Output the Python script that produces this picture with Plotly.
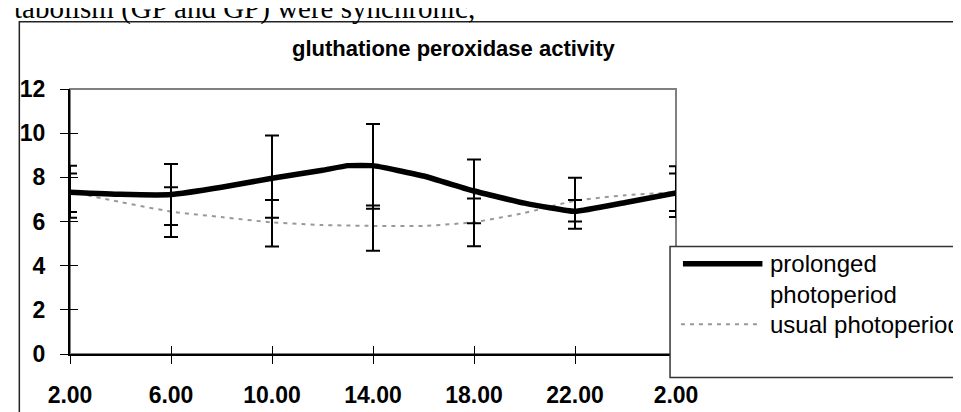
import plotly.graph_objects as go

# hours of the day (26 = 2.00 of the next day)
hours_prolonged = [2, 4, 6, 8, 10, 12, 13, 14, 16, 18, 20, 22, 24, 26]
prolonged = [7.33, 7.23, 7.22, 7.55, 7.96, 8.32, 8.53, 8.53, 8.06, 7.38, 6.83, 6.46, 6.86, 7.29]

hours_usual = [2, 4, 6, 8, 10, 12, 14, 16, 18, 20, 22, 24, 26]
usual = [7.35, 6.88, 6.45, 6.20, 5.96, 5.84, 5.80, 5.80, 5.97, 6.39, 6.94, 7.19, 7.33]

tick_hours = [2, 6, 10, 14, 18, 22, 26]
tick_labels = ["2.00", "6.00", "10.00", "14.00", "18.00", "22.00", "2.00"]

prolonged_err_plus = [1.19, 1.38, 1.94, 1.89, 1.43, 0.51, 1.21]
prolonged_err_minus = [1.16, 1.38, 1.79, 1.95, 1.46, 0.79, 1.09]
usual_err_plus = [0.82, 1.10, 1.01, 0.92, 1.07, 1.04, 0.84]
usual_err_minus = [0.92, 1.15, 1.09, 1.12, 1.09, 0.94, 0.85]

y_ticks = [0, 2, 4, 6, 8, 10, 12]

# pixel layout helpers (plot area 58..668 x 81..357)
L, R, T, B, W, H = 58, 668, 81, 357, 961, 412


def px(x):
    return (x - L) / (R - L)


def py(y):
    return (B - y) / (B - T)


FONT = "Liberation Sans, Arial, sans-serif"

p_at = dict(zip(hours_prolonged, prolonged))
u_at = dict(zip(hours_usual, usual))

fig = go.Figure()

fig.add_trace(go.Scatter(
    x=hours_usual, y=usual, mode="lines", name="usual photoperiod",
    line=dict(color="#999999", width=2, dash="4px,5px", shape="spline", smoothing=0.5),
    showlegend=False,
))
fig.add_trace(go.Scatter(
    x=hours_prolonged, y=prolonged, mode="lines", name="prolonged photoperiod",
    line=dict(color="black", width=5.5, shape="spline", smoothing=0.35),
    showlegend=False,
))

fig.add_trace(go.Scatter(
    x=tick_hours, y=[p_at[h] for h in tick_hours], mode="markers",
    marker=dict(size=1, color="rgba(0,0,0,0)"), showlegend=False, hoverinfo="skip",
    error_y=dict(type="data", symmetric=False, array=prolonged_err_plus,
                 arrayminus=prolonged_err_minus, color="black", thickness=2, width=7),
))
fig.add_trace(go.Scatter(
    x=tick_hours, y=[u_at[h] for h in tick_hours], mode="markers",
    marker=dict(size=1, color="rgba(0,0,0,0)"), showlegend=False, hoverinfo="skip",
    error_y=dict(type="data", symmetric=False, array=usual_err_plus,
                 arrayminus=usual_err_minus, color="black", thickness=2, width=7),
))

tickfont = dict(family=FONT, size=23, color="black", weight="bold")

fig.update_layout(
    width=W, height=H,
    margin=dict(l=L, r=W - R, t=T, b=H - B),
    paper_bgcolor="white", plot_bgcolor="white",
    showlegend=False,
    xaxis=dict(range=[2, 26], tickvals=tick_hours, ticktext=tick_labels,
               showgrid=False, zeroline=False, showline=True, linecolor="black", linewidth=1.5,
               ticks="outside", ticklen=8, tickwidth=1, tickcolor="black",
               tickfont=tickfont, ticklabelstandoff=12),
    yaxis=dict(range=[0, 12], tickvals=y_ticks,
               showgrid=False, zeroline=False, showline=True, linecolor="black", linewidth=2,
               ticks="outside", ticklen=8, tickwidth=1, tickcolor="black",
               tickfont=tickfont, ticklabelstandoff=10),
    xaxis2=dict(range=[2, 26], overlaying="x", tickvals=tick_hours, showticklabels=False,
                showgrid=False, zeroline=False, ticks="inside", ticklen=8, tickwidth=1,
                tickcolor="black"),
    yaxis2=dict(range=[0, 12], overlaying="y", tickvals=y_ticks, showticklabels=False,
                showgrid=False, zeroline=False, ticks="inside", ticklen=8, tickwidth=1,
                tickcolor="black"),
)
# dummy trace so the overlay axes are drawn
fig.add_trace(go.Scatter(x=[2], y=[0], xaxis="x2", yaxis="y2", mode="markers",
                         marker=dict(size=1, color="rgba(0,0,0,0)"), showlegend=False,
                         hoverinfo="skip"))

shapes = [
    # plot area border
    dict(type="rect", xref="paper", yref="paper", x0=0, y0=0, x1=1, y1=1,
         line=dict(color="#808080", width=2), layer="below"),
    # outer chart border
    dict(type="rect", xref="paper", yref="paper", x0=px(7), y0=py(430), x1=px(990), y1=py(11),
         line=dict(color="#222222", width=1.5), layer="below"),
    # legend box
    dict(type="rect", xref="paper", yref="paper", x0=px(662), y0=py(381.5), x1=px(990), y1=py(245),
         line=dict(color="#333333", width=1.5), fillcolor="white", layer="above"),
    # legend samples
    dict(type="line", xref="paper", yref="paper", x0=px(675), y0=py(263), x1=px(755), y1=py(263),
         line=dict(color="black", width=5.5), layer="above"),
    dict(type="line", xref="paper", yref="paper", x0=px(673), y0=py(326), x1=px(750), y1=py(326),
         line=dict(color="#999999", width=2, dash="4px,5px"), layer="above"),
]
fig.update_layout(shapes=shapes)

annotations = [
    dict(text="tabolism (GP and GP) were synchronic,", x=px(0), y=py(-3), xanchor="left",
         yanchor="middle", font=dict(family="Liberation Serif, Times New Roman, serif", size=29,
                                     color="black")),
    dict(text="gluthatione peroxidase activity", x=px(445), y=py(39), xanchor="center",
         yanchor="middle", font=dict(family=FONT, size=22, color="black", weight="bold")),
    dict(text="prolonged", x=px(761), y=py(263), xanchor="left", yanchor="middle",
         font=dict(family=FONT, size=24, color="black")),
    dict(text="photoperiod", x=px(761), y=py(295), xanchor="left", yanchor="middle",
         font=dict(family=FONT, size=24, color="black")),
    dict(text="usual photoperiod", x=px(761), y=py(326), xanchor="left", yanchor="middle",
         font=dict(family=FONT, size=24, color="black")),
]
for a in annotations:
    a.update(xref="paper", yref="paper", showarrow=False)
fig.update_layout(annotations=annotations)

fig.write_html("out.html")
